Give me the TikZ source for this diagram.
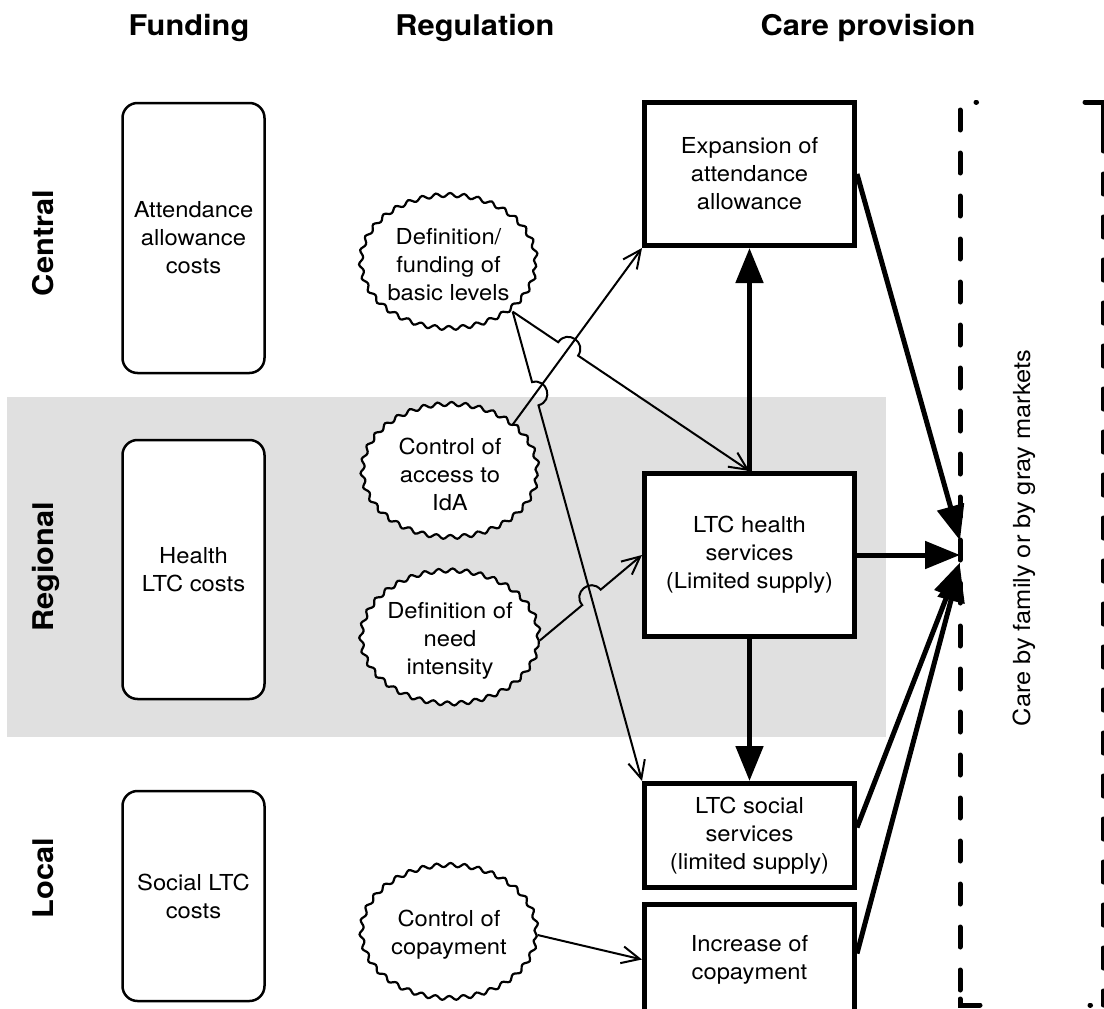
\documentclass[tikz,border=0pt]{standalone}
\usepackage{fontspec}
\setmainfont{TeX Gyre Heros}[FakeStretch=1.08]
\usetikzlibrary{arrows.meta,calc,shapes.geometric,decorations.pathmorphing}
\definecolor{band}{RGB}{224,224,224}
\newcommand\dgbody{\fontsize{22}{28}\selectfont}
\newcommand\dgfam{\fontsize{23.5}{28}\selectfont}
\newcommand\dghead{\fontsize{28.5}{34}\selectfont\bfseries}
\begin{document}
\begin{tikzpicture}[x=1pt,y=-1pt,
  fundbox/.style={draw, line width=2.5pt, rounded corners=15pt, fill=white, minimum width=142pt, align=center, inner sep=0pt, font=\dgbody},
  carebox/.style={draw, line width=5pt, fill=white, minimum width=210pt, align=center, inner sep=0pt, font=\dgbody},
  cloudnode/.style={ellipse, draw, line width=2.2pt, fill=white, minimum width=175pt, minimum height=133pt, inner sep=0pt, align=center, font=\dgbody, decorate, decoration={snake, amplitude=2pt, segment length=14pt}},
  thinarrow/.style={line width=2pt, -{Straight Barb[length=18pt,width=17pt]}},
  thickarrow/.style={line width=5pt, -{Triangle[length=35pt,width=27pt]}},
  headtext/.style={font=\dghead, anchor=base},
  famline/.style={line width=5pt, line cap=round},
]
\useasboundingbox (0,0) rectangle (1104,1009);
\fill[band] (7,397) rectangle (886,737);

% headings
\node[headtext] (hfund) at (189,35) {Funding};
\node[headtext] (hreg) at (475,35) {Regulation};
\node[headtext] (hcare) at (868,35) {Care provision};
\node[headtext, rotate=90] (lcen) at (53,243) {Central};
\node[headtext, rotate=90] (lreg) at (53,567) {Regional};
\node[headtext, rotate=90] (lloc) at (53,878) {Local};

% funding
\node[fundbox, minimum height=270pt] (fa) at (193.5,238) {Attendance\\allowance\\costs};
\node[fundbox, minimum height=259pt] (fh) at (193.5,569.5) {Health\\LTC costs};
\node[fundbox, minimum height=210pt] (fs) at (193.5,896) {Social LTC\\costs};

% regulation
\node[cloudnode] (rdef) at (448.5,265) {Definition/\\funding of\\basic levels};
\node[cloudnode] (racc) at (450,474) {Control of\\access to\\IdA};
\node[cloudnode] (rneed) at (450,640.5) {Definition of\\need\\intensity};
\node[cloudnode] (rcop) at (449,935) {Control of\\copayment};

% care
\node[carebox, minimum height=143pt] (cexp) at (749.5,174) {Expansion of\\attendance\\allowance};
\node[carebox, minimum height=163pt] (chealth) at (749.5,555) {LTC health\\services\\(Limited supply)};
\node[carebox, minimum height=104pt] (csocial) at (749.5,835.5) {LTC social\\services\\(limited supply)};
\node[carebox, minimum height=110pt] (cinc) at (749.5,959.5) {Increase of\\copayment};

% family / gray markets (dashed frame)
\node[minimum width=143pt, minimum height=903pt, inner sep=0pt, outer sep=0pt] (fam) at (1031.5,553.5) {};
\node[font=\dgfam, rotate=90] (famtxt) at (1024,538) {Care by family or by gray markets};
\draw[famline, dash pattern=on 20pt off 23pt, dash phase=35pt] (fam.north west) -- ($(fam.south west)+(0,-12)$);
\draw[famline] ($(fam.south west)+(0,-6)$) -- (fam.south west) -- ($(fam.south west)+(20,0)$);
\draw[famline] ($(fam.north west)+(16,0)$) -- ($(fam.north west)+(16.5,0)$);
\draw[famline] ($(fam.north east)+(-18,0)$) -- (fam.north east) -- ($(fam.north east)+(0,48)$);
\draw[famline, dash pattern=on 20pt off 23pt, dash phase=19pt] ($(fam.north east)+(0,48)$) -- (fam.south east);
\draw[famline] ($(fam.south east)+(-13,0)$) -- ($(fam.south east)+(-12.5,0)$);

% thick arrows
\draw[thickarrow] (chealth.north) -- (cexp.south);
\draw[thickarrow] (chealth.south) -- (csocial.north);
\draw[thickarrow] (cexp.east) -- ($(fam.west)+(0,-13)$);
\draw[thickarrow] (chealth.east) -- (fam.west |- chealth.east);
\draw[thickarrow] ($(csocial.east)+(0,-8)$) -- ($(fam.west)+(0,9)$);
\draw[thickarrow] ($(cinc.east)+(0,-6)$) -- ($(fam.west)+(0,13)$);

% thin arrows
\coordinate (dS) at (rdef.-36);
\coordinate (aS) at (racc.38);
\coordinate (hN) at (chealth.north);
\coordinate (eSW) at (cexp.south west);
\coordinate (sNW) at (csocial.north west);
\coordinate (nE) at (rneed.east);
\coordinate (hW) at (chealth.west);
\coordinate (X1) at (intersection of dS--hN and aS--eSW);
\coordinate (X2) at (intersection of dS--sNW and aS--eSW);
\coordinate (X3) at (intersection of nE--hW and dS--sNW);
\coordinate (X1a) at ($(X1)!12pt!(dS)$);
\coordinate (X1b) at ($(X1)!12pt!(hN)$);
\coordinate (X2a) at ($(X2)!12pt!(dS)$);
\coordinate (X2b) at ($(X2)!12pt!(sNW)$);
\coordinate (X3a) at ($(X3)!12pt!(nE)$);
\coordinate (X3b) at ($(X3)!12pt!(hW)$);

\draw[thinarrow] (aS) -- (eSW);
\draw[thinarrow] (dS) -- (X1a) .. controls ($(X1a)!16pt!90:(X1b)$) and ($(X1b)!16pt!-90:(X1a)$) .. (X1b) -- (hN);
\draw[thinarrow] (dS) -- (X2a) .. controls ($(X2a)!16pt!90:(X2b)$) and ($(X2b)!16pt!-90:(X2a)$) .. (X2b) -- (sNW);
\draw[thinarrow] (nE) -- (X3a) .. controls ($(X3a)!16pt!90:(X3b)$) and ($(X3b)!16pt!-90:(X3a)$) .. (X3b) -- (hW);
\draw[thinarrow] (rcop.east) -- (cinc.west);
\end{tikzpicture}
\end{document}
